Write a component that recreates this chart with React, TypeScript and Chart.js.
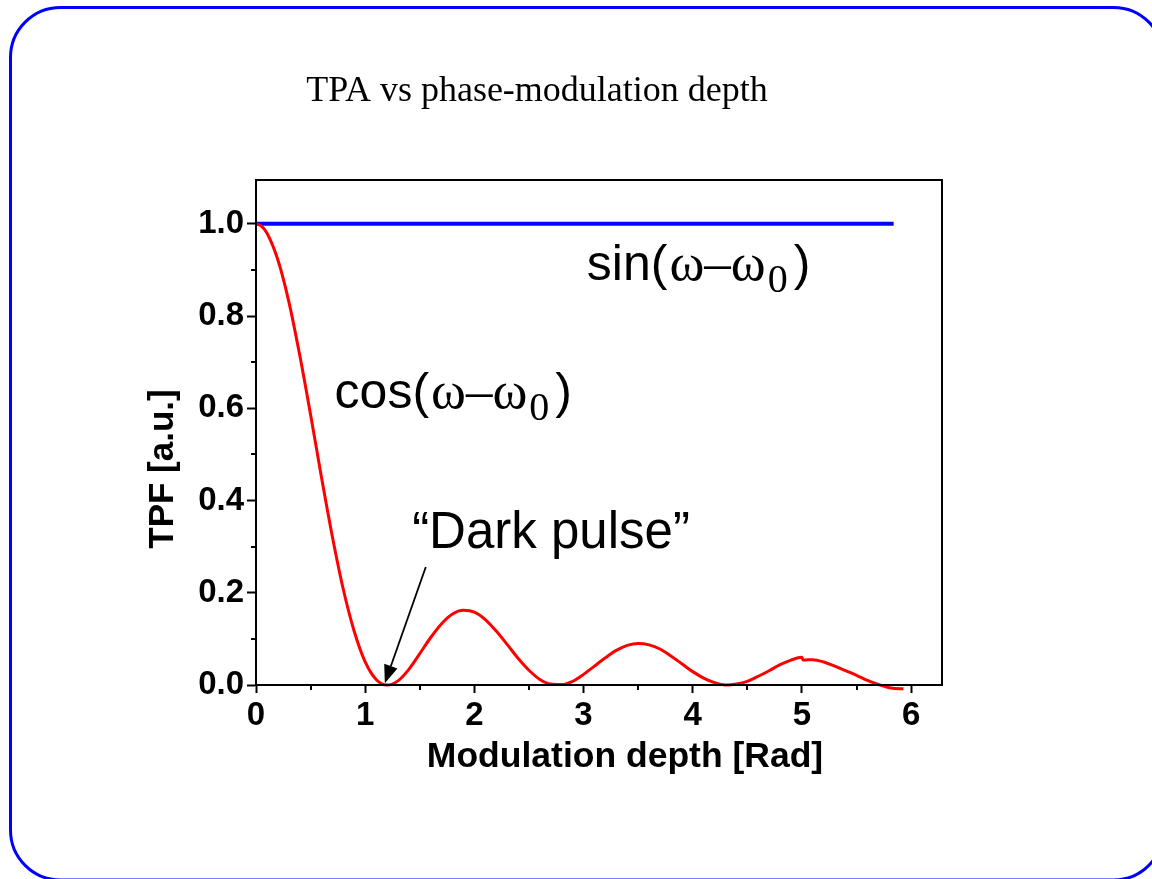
import React, { useEffect, useRef } from "react";
import { Chart, registerables } from "chart.js";

Chart.register(...registerables);

// ---------- data ----------
const modDepth = [
  0, 0.05, 0.1, 0.2, 0.3, 0.4, 0.5, 0.6, 0.7, 0.8, 0.9,
  1.0, 1.1, 1.2, 1.3, 1.4, 1.5, 1.6, 1.7, 1.8, 1.9,
  2.0, 2.1, 2.2, 2.3, 2.4, 2.5, 2.6, 2.7, 2.8, 2.9,
  3.0, 3.1, 3.2, 3.3, 3.4, 3.5, 3.6, 3.7, 3.8, 3.9,
  4.0, 4.1, 4.2, 4.3, 4.4, 4.5, 4.6, 4.7, 4.8, 4.9,
  5.0, 5.01, 5.1, 5.2, 5.3, 5.4, 5.5, 5.6, 5.7, 5.8, 5.9, 5.93,
];
const tpfCos = [
  1.0, 0.995, 0.98, 0.922, 0.832, 0.716, 0.586, 0.45, 0.321, 0.207, 0.116,
  0.05, 0.012, 0.0, 0.009, 0.034, 0.068, 0.103, 0.133, 0.154, 0.162,
  0.158, 0.142, 0.117, 0.088, 0.058, 0.032, 0.012, 0.002, 0.001, 0.008,
  0.023, 0.041, 0.059, 0.075, 0.086, 0.09, 0.087, 0.078, 0.063, 0.046,
  0.029, 0.015, 0.005, 0.0, 0.002, 0.008, 0.019, 0.031, 0.044, 0.054,
  0.06, 0.054, 0.055, 0.05, 0.041, 0.031, 0.021, 0.01, 0.001, -0.006, -0.008, -0.008,
];
const sinDepth = [0, 5.84];
const tpfSin = [1.0, 1.0];

const xMinorTicks = [0.5, 1.5, 2.5, 3.5, 4.5, 5.5];
const yMinorTicks = [0.1, 0.3, 0.5, 0.7, 0.9];

const chartTitle = "TPA vs phase-modulation depth";
const xTitle = "Modulation depth [Rad]";
const yTitle = "TPF [a.u.]";
const darkPulseText = "\u201CDark pulse\u201D";

// annotation anchors (data coordinates)
const sinLabelAt = { x: 3.03, y: 0.879 };
const cosLabelAt = { x: 0.72, y: 0.6 };
const darkLabelAt = { x: 1.43, y: 0.297 };
const arrowFrom = { x: 1.555, y: 0.256 };
const arrowTo = { x: 1.18, y: 0.004 };

const SANS = "Arial, 'Liberation Sans', sans-serif";
const SERIF = "'Times New Roman', 'Liberation Serif', serif";

function drawFormula(ctx: CanvasRenderingContext2D, fn: string, x: number, y: number) {
  ctx.textAlign = "left";
  ctx.textBaseline = "alphabetic";
  ctx.font = `50px ${SANS}`;
  ctx.fillText(fn + "(", x, y);
  const omegaX = x + ctx.measureText(fn + "(").width + 2;
  ctx.font = `53px ${SERIF}`;
  ctx.fillText("\u03C9\u2013\u03C9", omegaX, y);
  const zeroX = omegaX + ctx.measureText("\u03C9\u2013\u03C9").width + 2;
  ctx.font = `40px ${SERIF}`;
  ctx.fillText("0", zeroX, y + 12);
  const parenX = zeroX + ctx.measureText("0").width + 6;
  ctx.font = `50px ${SANS}`;
  ctx.fillText(")", parenX, y);
}

const decorPlugin = {
  id: "decor",
  beforeDraw(chart: any) {
    const ctx: CanvasRenderingContext2D = chart.ctx;
    ctx.save();
    ctx.fillStyle = "#ffffff";
    ctx.fillRect(0, 0, chart.width, chart.height);
    ctx.strokeStyle = "#0000ff";
    ctx.lineWidth = 3;
    ctx.beginPath();
    (ctx as any).roundRect(10.5, 7.5, 1153, 872.5, 50);
    ctx.stroke();
    ctx.fillStyle = "#000000";
    ctx.font = `36px ${SERIF}`;
    ctx.textAlign = "center";
    ctx.textBaseline = "alphabetic";
    ctx.fillText(chartTitle, 537, 101);
    // axis titles
    ctx.font = `bold 35.5px ${SANS}`;
    ctx.fillText(xTitle, 625, 767);
    ctx.save();
    ctx.translate(173, 469);
    ctx.rotate(-Math.PI / 2);
    ctx.font = `bold 35px ${SANS}`;
    ctx.fillText(yTitle, 0, 0);
    ctx.restore();
    ctx.restore();
  },
  afterDraw(chart: any) {
    const ctx: CanvasRenderingContext2D = chart.ctx;
    const { left, top, right, bottom } = chart.chartArea;
    const xs = chart.scales.x;
    const ys = chart.scales.y;
    ctx.save();
    // frame
    ctx.strokeStyle = "#000000";
    ctx.lineWidth = 2;
    ctx.strokeRect(left, top, right - left, bottom - top);
    // minor ticks
    ctx.beginPath();
    for (const v of yMinorTicks) {
      const py = Math.round(ys.getPixelForValue(v));
      ctx.moveTo(left - 5, py);
      ctx.lineTo(left, py);
    }
    for (const v of xMinorTicks) {
      const px = Math.round(xs.getPixelForValue(v));
      ctx.moveTo(px, bottom);
      ctx.lineTo(px, bottom + 5);
    }
    ctx.stroke();
    // labels
    ctx.fillStyle = "#000000";
    drawFormula(ctx, "sin", xs.getPixelForValue(sinLabelAt.x), ys.getPixelForValue(sinLabelAt.y));
    drawFormula(ctx, "cos", xs.getPixelForValue(cosLabelAt.x), ys.getPixelForValue(cosLabelAt.y));
    ctx.font = `51px ${SANS}`;
    ctx.textAlign = "left";
    ctx.textBaseline = "alphabetic";
    ctx.fillText(darkPulseText, xs.getPixelForValue(darkLabelAt.x), ys.getPixelForValue(darkLabelAt.y));
    // arrow
    const x1 = xs.getPixelForValue(arrowFrom.x);
    const y1 = ys.getPixelForValue(arrowFrom.y);
    const x2 = xs.getPixelForValue(arrowTo.x);
    const y2 = ys.getPixelForValue(arrowTo.y);
    const ang = Math.atan2(y2 - y1, x2 - x1);
    const headLen = 18;
    const headHalf = 7;
    const bx = x2 - headLen * Math.cos(ang);
    const by = y2 - headLen * Math.sin(ang);
    ctx.lineWidth = 1.8;
    ctx.beginPath();
    ctx.moveTo(x1, y1);
    ctx.lineTo(bx, by);
    ctx.stroke();
    ctx.beginPath();
    ctx.moveTo(x2, y2);
    ctx.lineTo(bx + headHalf * Math.sin(ang), by - headHalf * Math.cos(ang));
    ctx.lineTo(bx - headHalf * Math.sin(ang), by + headHalf * Math.cos(ang));
    ctx.closePath();
    ctx.fill();
    ctx.restore();
  },
};

export default function App() {
  const canvasRef = useRef<HTMLCanvasElement | null>(null);

  useEffect(() => {
    const canvas = canvasRef.current;
    if (!canvas) return;
    const chart = new Chart(canvas, {
      type: "line",
      data: {
        datasets: [
          {
            label: "cos",
            data: modDepth.map((x, i) => ({ x, y: tpfCos[i] })),
            borderColor: "#ff0000",
            borderWidth: 3,
            pointRadius: 0,
            cubicInterpolationMode: "monotone",
            clip: false as any,
            fill: false,
          },
          {
            label: "sin",
            data: sinDepth.map((x, i) => ({ x, y: tpfSin[i] })),
            borderColor: "#0000ff",
            borderWidth: 4,
            pointRadius: 0,
            borderCapStyle: "butt",
            fill: false,
          },
        ],
      },
      options: {
        animation: false,
        responsive: false,
        devicePixelRatio: 1,
        layout: { padding: { top: 180, left: 0, right: 210, bottom: 0 } },
        plugins: {
          legend: { display: false },
          title: { display: false },
          tooltip: { enabled: false },
        },
        scales: {
          x: {
            type: "linear",
            min: 0,
            max: 6.283,
            afterFit: (s: any) => {
              s.height = 879 - 685;
            },
            border: { display: true, color: "#000000", width: 2 },
            grid: {
              drawOnChartArea: false,
              drawTicks: true,
              tickLength: 8,
              tickWidth: 2,
              tickColor: "#000000",
            },
            ticks: {
              stepSize: 1,
              includeBounds: false,
              color: "#000000",
              padding: 3,
              maxRotation: 0,
              font: { family: SANS, size: 33, weight: "bold" },
              callback: (v: any) => String(Math.round(Number(v))),
            },
            title: { display: false },
          },
          y: {
            type: "linear",
            min: 0,
            max: 1.095,
            afterFit: (s: any) => {
              s.width = 256;
            },
            border: { display: true, color: "#000000", width: 2 },
            grid: {
              drawOnChartArea: false,
              drawTicks: true,
              tickLength: 9,
              tickWidth: 2,
              tickColor: "#000000",
            },
            ticks: {
              stepSize: 0.2,
              includeBounds: false,
              color: "#000000",
              padding: 3,
              font: { family: SANS, size: 33, weight: "bold" },
              callback: (v: any) => Number(v).toFixed(1),
            },
            title: { display: false },
          },
        },
      } as any,
      plugins: [decorPlugin],
    });
    return () => chart.destroy();
  }, []);

  return (
    <div style={{ position: "absolute", left: 0, top: 0, width: 1152, height: 879, background: "#fff" }}>
      <canvas ref={canvasRef} width={1152} height={879} style={{ display: "block", width: 1152, height: 879 }} />
    </div>
  );
}
